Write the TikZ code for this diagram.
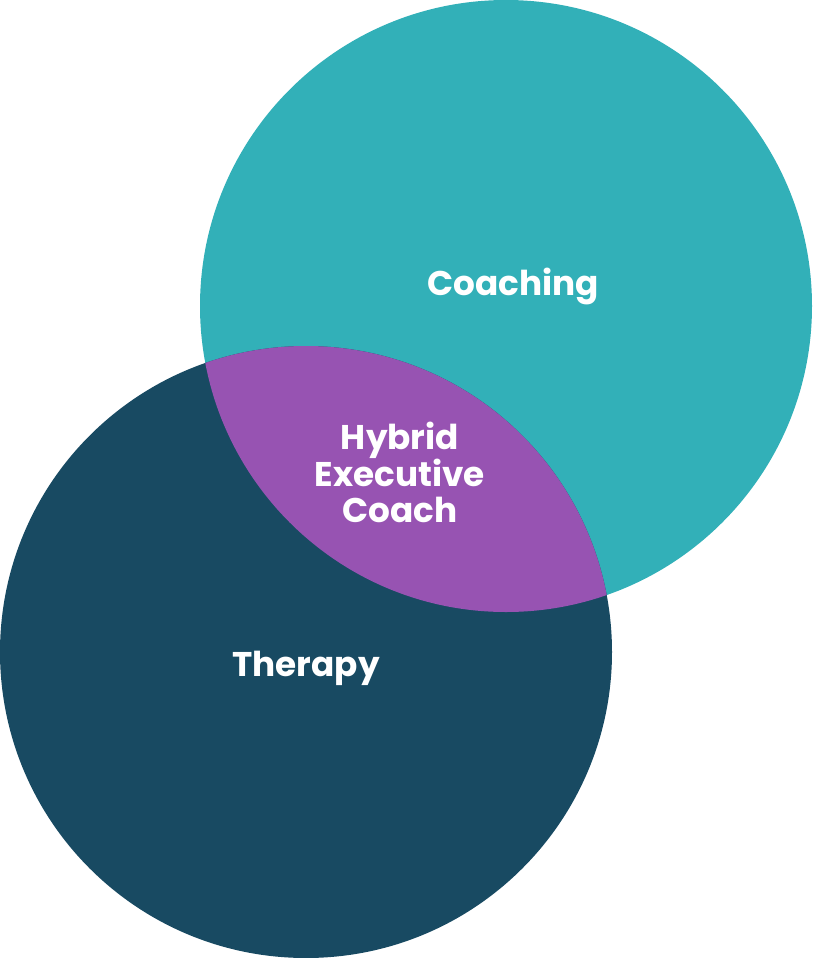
\documentclass[tikz,border=0pt]{standalone}
\usepackage{fontspec}
\setmainfont{Poppins}
\definecolor{vnteal}{RGB}{50,176,184}
\definecolor{vnnavy}{RGB}{24,74,98}
\definecolor{vnpurple}{RGB}{151,83,178}
\usetikzlibrary{positioning}

\begin{document}
\begin{tikzpicture}[
  vnlabel/.style={text=white,align=center,font=\fontsize{19.5}{21}\selectfont\bfseries}
]
  \useasboundingbox (0,0) rectangle (16.24,-19.16);

  % the two sets
  \fill[vnteal] (10.12,-6.12) circle (6.12);
  \fill[vnnavy] (6.12,-13.04) circle (6.12);

  % overlap
  \begin{scope}
    \clip (10.12,-6.12) circle (6.12);
    \fill[vnpurple] (6.12,-13.04) circle (6.12);
  \end{scope}

  % labels
  \node[vnlabel] (coaching) at (10.26,-5.72) {Coaching};
  \node[vnlabel] (therapy) at (6.12,-13.36) {Therapy};
  \node[vnlabel] (hybrid) at (8.00,-9.45) {Hybrid\\Executive\\Coach};
\end{tikzpicture}
\end{document}
